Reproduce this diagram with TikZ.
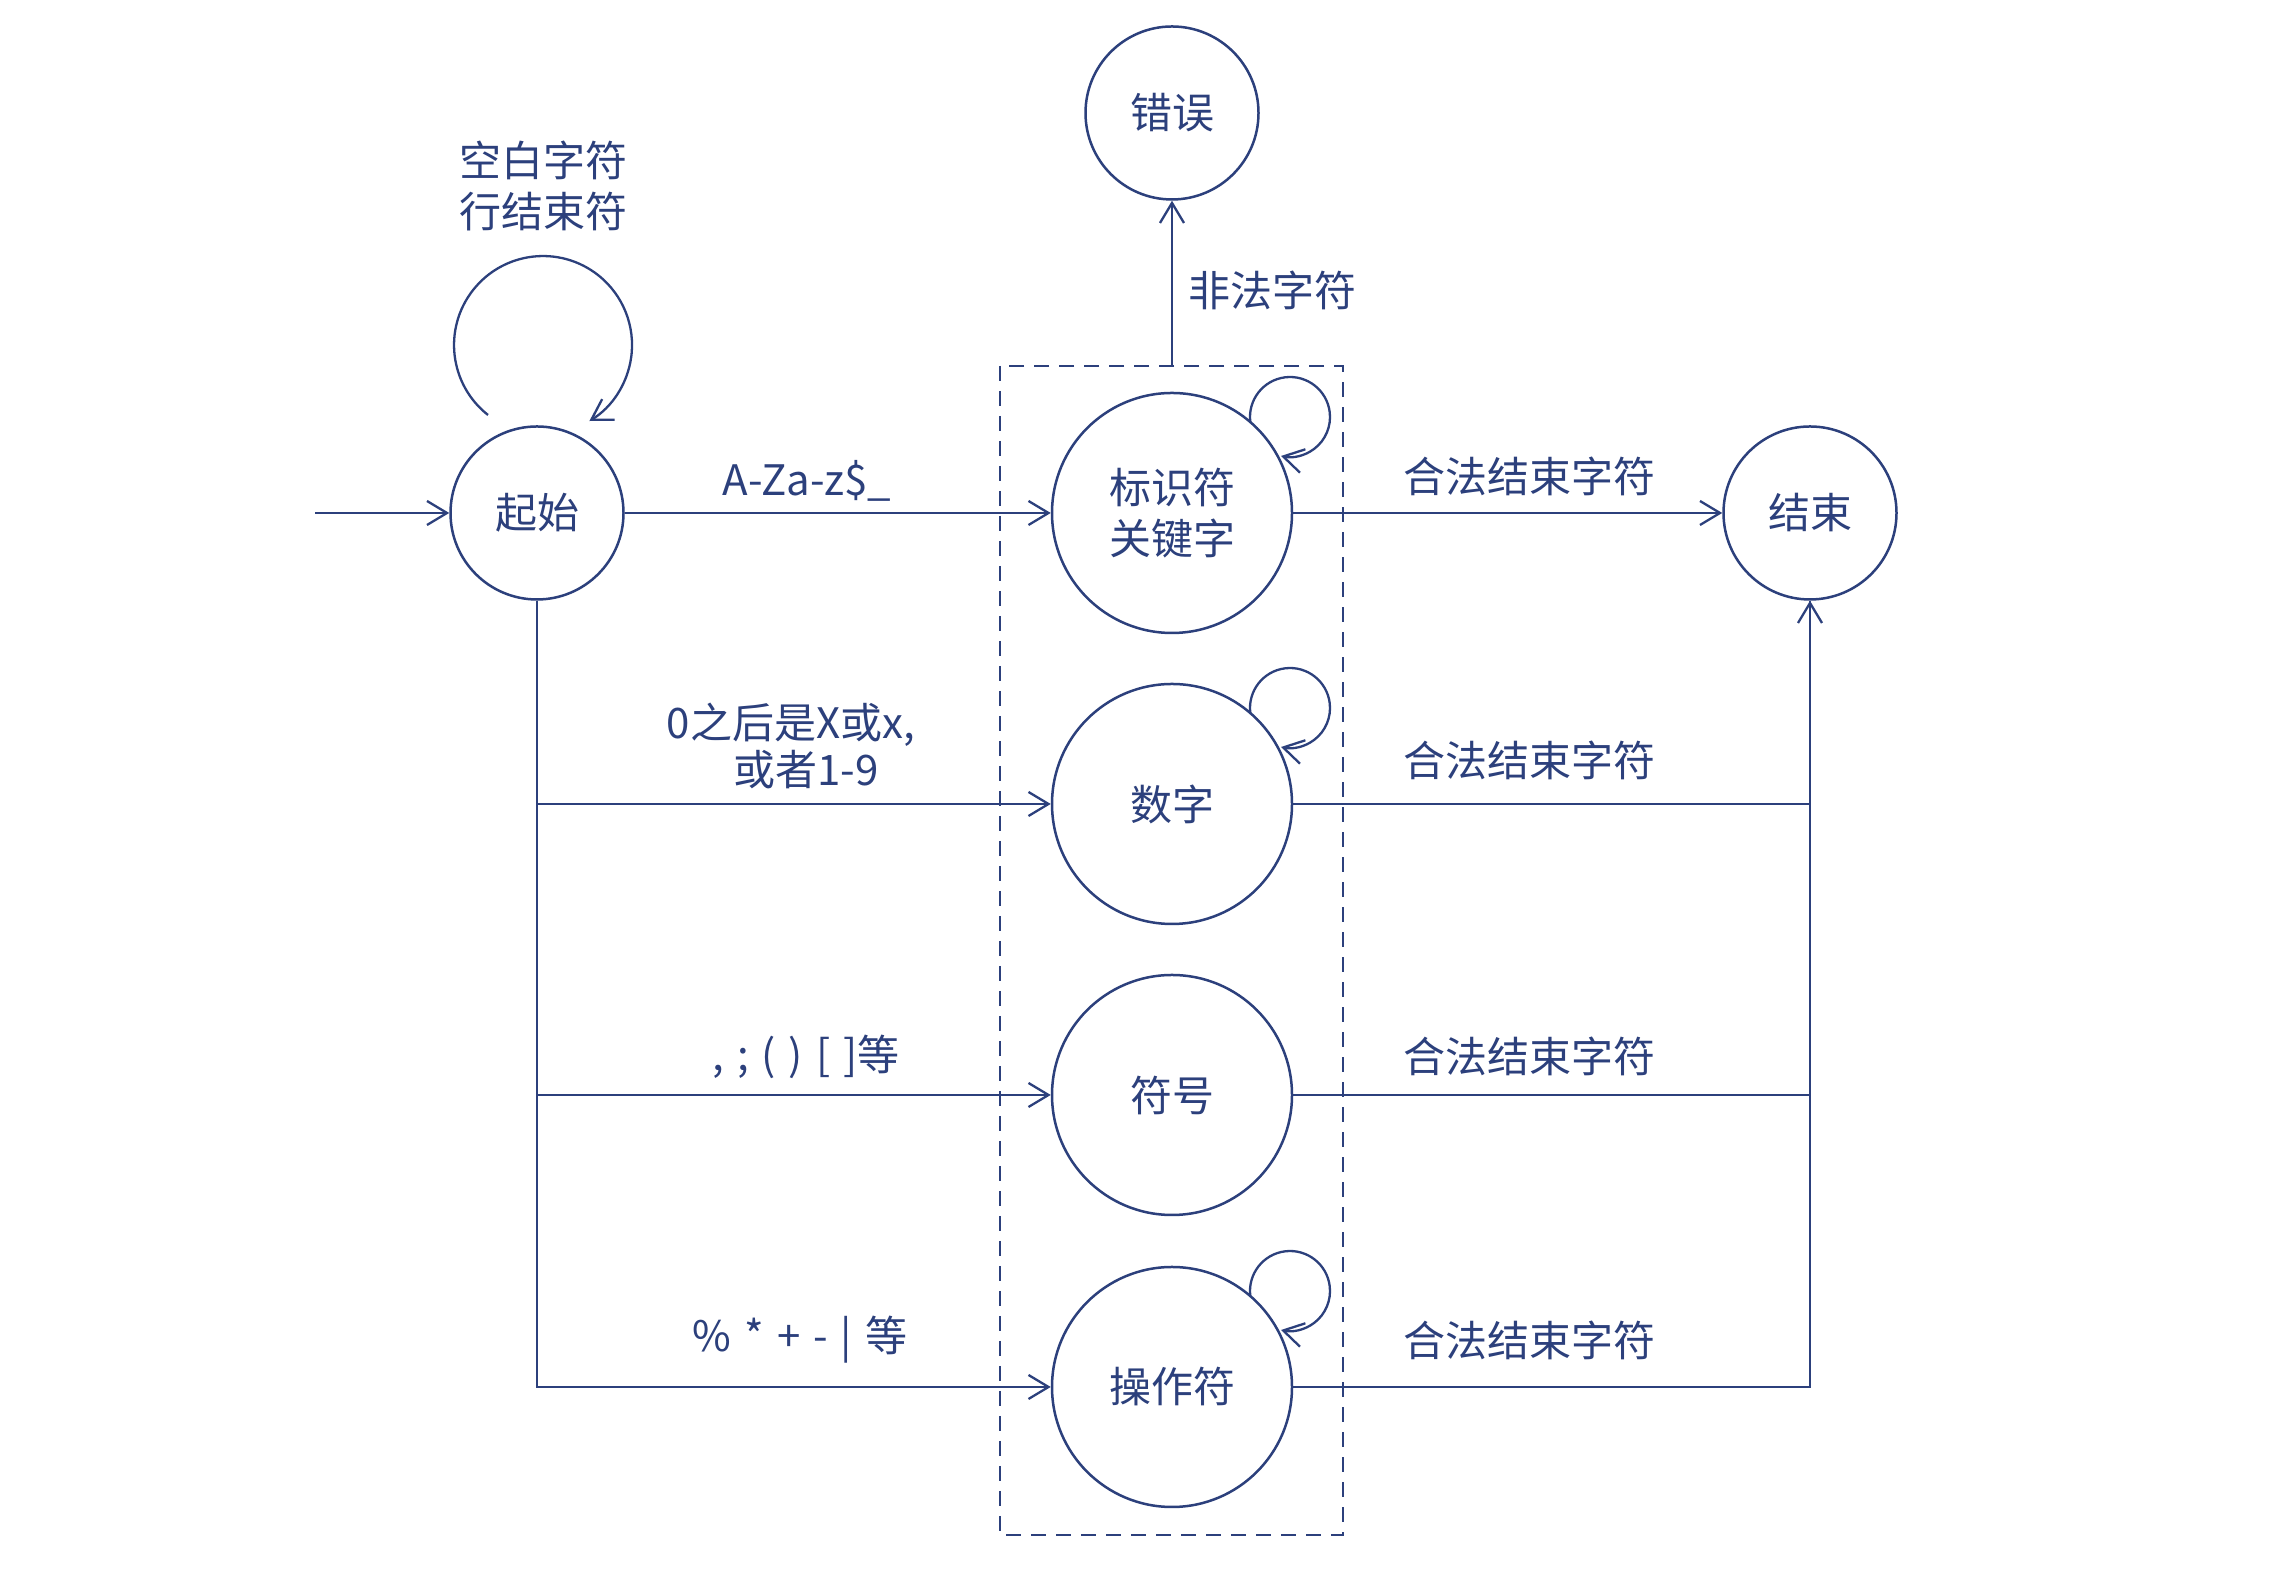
\documentclass[tikz,border=0pt]{standalone}
\usepackage{fontspec}
\setmainfont{Noto Sans CJK SC}
\usetikzlibrary{arrows.meta,calc}
\definecolor{ink}{RGB}{44,64,124}
\begin{document}
\begin{tikzpicture}[x=1pt,y=1pt,
  every node/.style={font=\fontsize{42}{51}\selectfont, text=ink},
  state/.style={circle, draw=ink, line width=2.5pt, inner sep=0pt},
  small/.style={state, minimum size=173pt},
  big/.style={state, minimum size=240pt},
  conn/.style={draw=ink, line width=2.3pt},
  arr/.style={conn, -{Straight Barb[length=20pt,width=24pt,line width=2.3pt]}},
  lbl/.style={inner sep=0pt}]
\useasboundingbox (0,0) rectangle (2284,1578);
\fill[white] (0,0) rectangle (2284,1578);
% states
\node[small] (s) at (537,1065) {起始};
\node[small] (e) at (1810,1065) {结束};
\node[small] (err) at (1172,1465) {错误};
\node[big, align=center] (id) at (1172,1065) {标识符\\关键字};
\node[big] (num) at (1172,774) {数字};
\node[big] (sym) at (1172,483) {符号};
\node[big] (op) at (1172,191) {操作符};
% dashed box
\draw[conn, dash pattern=on 15pt off 10pt] (1000,1212) rectangle (1343,43);
\coordinate (boxtop) at (1172,1212);
\coordinate (entry) at (315,1065);
% entry
\draw[arr] (entry) -- (s.west);
% self loop on start
\draw[arr] (488,1163) arc[start angle=231.8, end angle=-58.6, radius=89];
\node[lbl, align=center] (sl) at (543,1392) {空白字符\\行结束符};
% small loops
\foreach \n in {id,num,op}{
  \draw[arr] ($(\n.center)+(78.3,91.1)$) arc[start angle=187, end angle=-103, radius=40];
}
% error
\draw[arr] (boxtop) -- (err.south);
\node[lbl] (il) at (1272,1288) {非法字符};
% left connections
\draw[arr] (s.east) -- (id.west);
\node[lbl] (l1) at (807,1097) {A-Za-z\$\_};
\draw[arr] (s.south) |- (num.west);
\node[lbl] (l2a) at (791,853) {0之后是X或x,};
\node[lbl] (l2b) at (806,808) {或者1-9};
\draw[arr] (s.south) |- (sym.west);
\node[lbl] (l3) at (806,521) {,\hspace{13pt};\hspace{13pt}(\hspace{13pt})\hspace{13pt}[\hspace{13pt}]等};
\draw[arr] (s.south) |- (op.west);
\node[lbl] (l4) at (800,238) {\%\hspace{13pt}*\hspace{13pt}+\hspace{13pt}-\hspace{13pt}|\hspace{13pt}等};
% right connections
\draw[arr] (id.east) -- (e.west);
\draw[arr] (num.east) -| (e.south);
\draw[conn] (sym.east) -| (e.south);
\draw[conn] (op.east) -| (e.south);
\node[lbl] (r1) at (1529,1102) {合法结束字符};
\node[lbl] (r2) at (1529,818) {合法结束字符};
\node[lbl] (r3) at (1529,522) {合法结束字符};
\node[lbl] (r4) at (1529,238) {合法结束字符};
\end{tikzpicture}
\end{document}
